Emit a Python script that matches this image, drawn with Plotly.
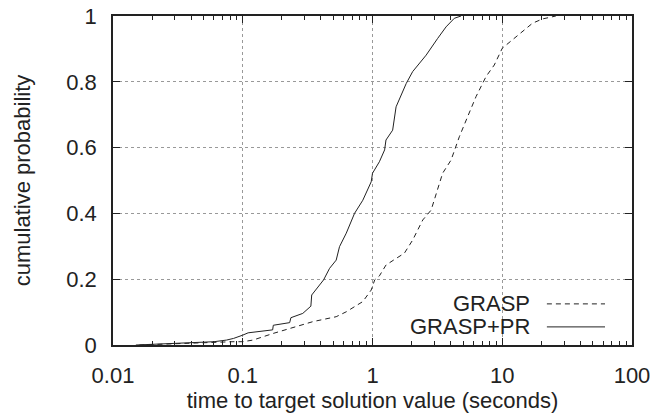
import plotly.graph_objects as go

# GRASP+PR (solid)
pr_time = [0.015, 0.02, 0.03, 0.045, 0.06, 0.075, 0.085, 0.1, 0.11, 0.17, 0.172, 0.23, 0.235,
           0.29, 0.335, 0.34, 0.39, 0.42, 0.467, 0.525, 0.557, 0.628, 0.727, 0.842, 0.977, 1.0,
           1.13, 1.24, 1.27, 1.43, 1.52, 1.82, 2.04, 2.3, 2.59, 3.18, 3.69, 4.27, 4.81]
pr_prob = [0.0, 0.002, 0.004, 0.007, 0.01, 0.015, 0.02, 0.03, 0.037, 0.046, 0.06, 0.068, 0.083,
           0.096, 0.118, 0.152, 0.182, 0.198, 0.233, 0.258, 0.299, 0.34, 0.4, 0.44, 0.496, 0.522,
           0.557, 0.593, 0.623, 0.653, 0.724, 0.795, 0.831, 0.856, 0.881, 0.932, 0.967, 0.993, 1.0]

# GRASP (dashed)
g_time = [0.016, 0.031, 0.06, 0.084, 0.1, 0.12, 0.171, 0.347, 0.525, 0.628, 0.842, 0.977, 1.04,
          1.13, 1.27, 1.52, 1.76, 2.04, 2.44, 2.83, 3.09, 3.47, 4.03, 4.67, 5.41, 6.28, 7.5,
          8.68, 10.0, 12.0, 14.3, 17.1, 20.4, 25.9]
g_prob = [0.0, 0.005, 0.008, 0.01, 0.01, 0.015, 0.035, 0.071, 0.086, 0.101, 0.132, 0.167, 0.198,
          0.21, 0.243, 0.263, 0.279, 0.319, 0.38, 0.41, 0.461, 0.522, 0.562, 0.633, 0.694, 0.755,
          0.816, 0.851, 0.902, 0.927, 0.952, 0.978, 0.991, 1.0]

x_ticks = [0.01, 0.1, 1, 10, 100]
x_labels = ["0.01", "0.1", "1", "10", "100"]
y_ticks = [0, 0.2, 0.4, 0.6, 0.8, 1]
y_labels = ["0", "0.2", "0.4", "0.6", "0.8", "1"]
minor_ticks = [m * d for d in [0.01, 0.1, 1, 10] for m in range(2, 10)]

FONT = "Liberation Sans, Arial, Helvetica, sans-serif"
INK = "#222222"
GRID = "#999999"
FS = 22

fig = go.Figure()
fig.add_trace(go.Scatter(x=g_time, y=g_prob, mode="lines", name="GRASP",
                         line=dict(color=INK, width=1, dash="5px,4px")))
fig.add_trace(go.Scatter(x=pr_time, y=pr_prob, mode="lines", name="GRASP+PR",
                         line=dict(color=INK, width=1)))

fig.update_layout(
    width=654, height=415,
    margin=dict(l=113, r=22, t=16, b=70),
    paper_bgcolor="white", plot_bgcolor="white",
    showlegend=False,
    font=dict(family=FONT, size=FS, color=INK),
)
fig.update_xaxes(
    type="log", range=[-2, 2], automargin=False,
    tickvals=x_ticks, ticktext=x_labels, tickfont=dict(size=FS),
    ticks="inside", ticklen=7, tickwidth=1, tickcolor=INK,
    showline=True, linecolor=INK, linewidth=1.5, mirror="ticks",
    showgrid=True, gridcolor=GRID, griddash="dot", gridwidth=1,
    zeroline=False, ticklabelstandoff=10,
    minor=dict(tickvals=minor_ticks, ticks="inside", ticklen=4, tickcolor=INK, showgrid=False),
    title=dict(text="time to target solution value (seconds)", standoff=1, font=dict(size=FS)),
)
fig.update_yaxes(
    range=[0, 1], automargin=False,
    tickvals=y_ticks, ticktext=y_labels, tickfont=dict(size=FS),
    ticks="inside", ticklen=7, tickwidth=1, tickcolor=INK,
    showline=True, linecolor=INK, linewidth=1.5, mirror="ticks",
    showgrid=True, gridcolor=GRID, griddash="dot", gridwidth=1,
    zeroline=False, ticklabelstandoff=10,
    title=dict(text="cumulative probability", standoff=30, font=dict(size=FS)),
)

# legend drawn gnuplot-style: text right-aligned, sample on the right
leg = [("GRASP", "5px,4px", 0.125), ("GRASP+PR", "solid", 0.055)]
for name, dash, yy in leg:
    fig.add_annotation(xref="paper", yref="paper", x=0.807, y=yy, text=name,
                       showarrow=False, xanchor="right", yanchor="middle",
                       font=dict(size=FS, color=INK))
    fig.add_shape(type="line", xref="paper", yref="paper", x0=0.836, x1=0.948,
                  y0=yy, y1=yy, line=dict(color=INK, width=1, dash=dash))

fig.write_html("out.html", config={"displayModeBar": False},
               post_script="document.body.style.margin='0';")
